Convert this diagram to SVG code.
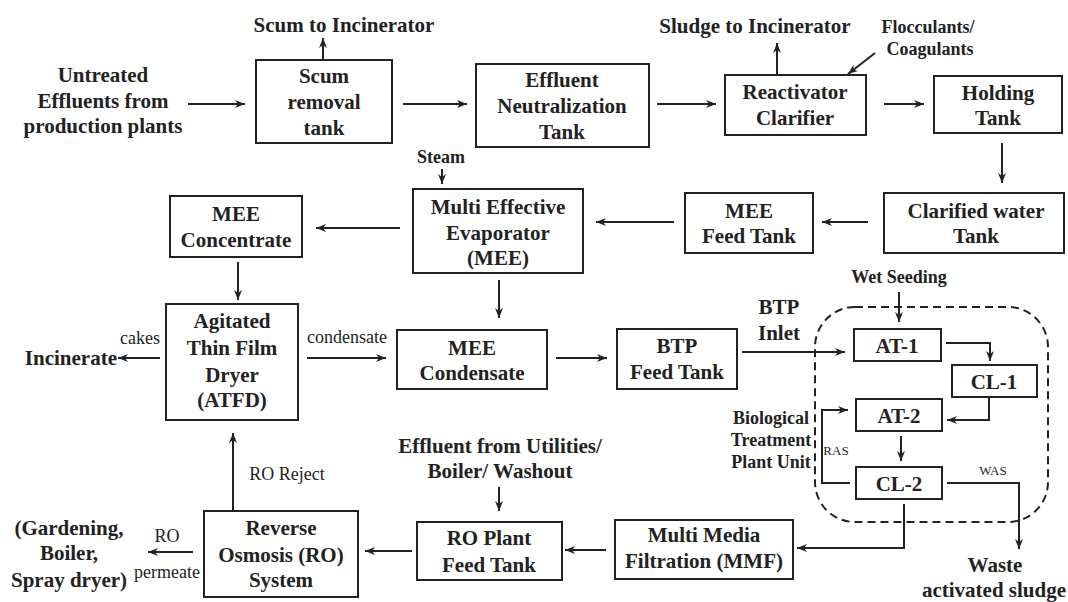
<svg xmlns="http://www.w3.org/2000/svg" width="1068" height="602" viewBox="0 0 1068 602">
<defs>
<marker id="ah" markerUnits="userSpaceOnUse" markerWidth="12" markerHeight="10" refX="10" refY="4" orient="auto">
<path d="M0,0 L10,4 L0,8 L3,4 z" fill="#222"/>
</marker>
<style>
.box{fill:#fff;stroke:#222;stroke-width:2}
.t{font-family:"Liberation Serif","Times New Roman",serif;font-weight:bold;font-size:21px;fill:#222;text-anchor:middle}
.s{font-family:"Liberation Serif","Times New Roman",serif;font-weight:bold;font-size:18px;fill:#222;text-anchor:middle}
.r{font-family:"Liberation Serif","Times New Roman",serif;font-size:18px;fill:#222;text-anchor:middle}
.xs{font-family:"Liberation Serif","Times New Roman",serif;font-size:13px;fill:#222;text-anchor:middle}
.c{fill:none;stroke:#222;stroke-width:2;marker-end:url(#ah)}
.dash{fill:none;stroke:#222;stroke-width:2;stroke-dasharray:8 5}
</style>
</defs>
<rect width="1068" height="602" fill="#fff"/>

<g id="bio-unit">
<rect class="dash" x="815" y="307" width="233" height="215" rx="40"/>
<text class="s"><tspan x="771" y="424">Biological</tspan><tspan x="771" y="446">Treatment</tspan><tspan x="771" y="468">Plant Unit</tspan></text>
</g>

<g id="connectors">
<line class="c" x1="188" y1="104" x2="245" y2="104"/>
<line class="c" x1="323" y1="60" x2="323" y2="38"/>
<line class="c" x1="403" y1="104" x2="467" y2="104"/>
<line class="c" x1="657" y1="104" x2="716" y2="104"/>
<line class="c" x1="777" y1="75" x2="777" y2="43"/>
<line class="c" x1="875" y1="53" x2="848" y2="74"/>
<line class="c" x1="884" y1="104" x2="924" y2="104"/>
<line class="c" x1="1002" y1="143" x2="1002" y2="183"/>
<line class="c" x1="868" y1="222" x2="822" y2="222"/>
<line class="c" x1="674" y1="222" x2="596" y2="222"/>
<line class="c" x1="442" y1="169" x2="442" y2="184"/>
<line class="c" x1="400" y1="228" x2="316" y2="228"/>
<line class="c" x1="238" y1="262" x2="238" y2="300"/>
<line class="c" x1="499" y1="280" x2="499" y2="318"/>
<line class="c" x1="160" y1="358" x2="118" y2="358"/>
<line class="c" x1="307" y1="358" x2="386" y2="358"/>
<line class="c" x1="556" y1="358" x2="607" y2="358"/>
<line class="c" x1="742" y1="352" x2="845" y2="352"/>
<line class="c" x1="899" y1="292" x2="899" y2="322"/>
<polyline class="c" points="946,343 990,343 990,361"/>
<polyline class="c" points="989,397 989,420 947,420"/>
<line class="c" x1="901" y1="436" x2="901" y2="461"/>
<polyline class="c" points="850,483 822,483 822,410 848,410"/>
<polyline class="c" points="947,483 1019,483 1019,549"/>
<polyline class="c" points="904,504 904,548 797,548"/>
<line class="c" x1="606" y1="550" x2="565" y2="550"/>
<line class="c" x1="499" y1="487" x2="499" y2="511"/>
<line class="c" x1="412" y1="551" x2="365" y2="551"/>
<line class="c" x1="233" y1="511" x2="233" y2="433"/>
<line class="c" x1="193" y1="552" x2="148" y2="552"/>
</g>

<g id="labels">
<text class="t"><tspan x="103" y="82">Untreated</tspan><tspan x="103" y="108">Effluents from</tspan><tspan x="103" y="133">production plants</tspan></text>
<text class="t" x="344" y="32">Scum to Incinerator</text>
<text class="t" x="755" y="33">Sludge to Incinerator</text>
<text class="s"><tspan x="928" y="33">Flocculants/</tspan><tspan x="930" y="55">Coagulants</tspan></text>
<text class="s" x="441" y="163">Steam</text>
<text class="r" x="140" y="344">cakes</text>
<text class="t" x="117" y="365" style="text-anchor:end">Incinerate</text>
<text class="r" x="347" y="343">condensate</text>
<text class="t"><tspan x="779" y="314">BTP</tspan><tspan x="779" y="340">Inlet</tspan></text>
<text class="s" x="899" y="283">Wet Seeding</text>
<text class="xs" x="836" y="455">RAS</text>
<text class="xs" x="993" y="475">WAS</text>
<text class="t"><tspan x="995" y="572">Waste</tspan><tspan x="994" y="597">activated sludge</tspan></text>
<text class="t"><tspan x="500" y="453">Effluent from Utilities/</tspan><tspan x="500" y="478">Boiler/ Washout</tspan></text>
<text class="r" x="287" y="480">RO Reject</text>
<text class="r" x="167" y="542">RO</text>
<text class="r" x="167" y="578">permeate</text>
<text class="t"><tspan x="69" y="535">(Gardening,</tspan><tspan x="69" y="560">Boiler,</tspan><tspan x="69" y="587">Spray dryer)</tspan></text>
</g>

<g id="scum-tank"><rect class="box" x="256" y="60" width="136" height="83"/>
<text class="t"><tspan x="324" y="83">Scum</tspan><tspan x="324" y="109">removal</tspan><tspan x="324" y="135">tank</tspan></text></g>

<g id="neutralization-tank"><rect class="box" x="476" y="64" width="173" height="83"/>
<text class="t"><tspan x="562" y="87">Effluent</tspan><tspan x="562" y="113">Neutralization</tspan><tspan x="562" y="139">Tank</tspan></text></g>

<g id="reactivator"><rect class="box" x="725" y="75" width="141" height="60"/>
<text class="t"><tspan x="795" y="99">Reactivator</tspan><tspan x="795" y="125">Clarifier</tspan></text></g>

<g id="holding-tank"><rect class="box" x="934" y="76" width="128" height="57"/>
<text class="t"><tspan x="998" y="100">Holding</tspan><tspan x="998" y="125">Tank</tspan></text></g>

<g id="clarified-tank"><rect class="box" x="884" y="193" width="180" height="60"/>
<text class="t"><tspan x="976" y="218">Clarified water</tspan><tspan x="976" y="243">Tank</tspan></text></g>

<g id="mee-feed"><rect class="box" x="685" y="193" width="128" height="60"/>
<text class="t"><tspan x="749" y="218">MEE</tspan><tspan x="749" y="243">Feed Tank</tspan></text></g>

<g id="mee"><rect class="box" x="413" y="189" width="170" height="84"/>
<text class="t"><tspan x="498" y="214">Multi Effective</tspan><tspan x="498" y="240">Evaporator</tspan><tspan x="498" y="265">(MEE)</tspan></text></g>

<g id="mee-concentrate"><rect class="box" x="170" y="196" width="132" height="61"/>
<text class="t"><tspan x="236" y="221">MEE</tspan><tspan x="236" y="247">Concentrate</tspan></text></g>

<g id="atfd"><rect class="box" x="166" y="304" width="132" height="116"/>
<text class="t"><tspan x="232" y="328">Agitated</tspan><tspan x="232" y="355">Thin Film</tspan><tspan x="232" y="382">Dryer</tspan><tspan x="232" y="407">(ATFD)</tspan></text></g>

<g id="mee-condensate"><rect class="box" x="397" y="330" width="150" height="59"/>
<text class="t"><tspan x="472" y="355">MEE</tspan><tspan x="472" y="380">Condensate</tspan></text></g>

<g id="btp-feed"><rect class="box" x="617" y="329" width="120" height="60"/>
<text class="t"><tspan x="677" y="353">BTP</tspan><tspan x="677" y="379">Feed Tank</tspan></text></g>

<g id="at1"><rect class="box" x="854" y="329" width="87" height="32"/>
<text class="t" x="897" y="353">AT-1</text></g>

<g id="cl1"><rect class="box" x="952" y="365" width="85" height="32"/>
<text class="t" x="994" y="389">CL-1</text></g>

<g id="at2"><rect class="box" x="856" y="399" width="86" height="32"/>
<text class="t" x="899" y="423">AT-2</text></g>

<g id="cl2"><rect class="box" x="856" y="467" width="86" height="32"/>
<text class="t" x="899" y="491">CL-2</text></g>

<g id="mmf"><rect class="box" x="615" y="520" width="178" height="59"/>
<text class="t"><tspan x="704" y="542">Multi Media</tspan><tspan x="704" y="568">Filtration (MMF)</tspan></text></g>

<g id="ro-feed"><rect class="box" x="417" y="522" width="145" height="58"/>
<text class="t"><tspan x="489" y="545">RO Plant</tspan><tspan x="489" y="572">Feed Tank</tspan></text></g>

<g id="ro-system"><rect class="box" x="204" y="511" width="154" height="86"/>
<text class="t"><tspan x="281" y="535">Reverse</tspan><tspan x="281" y="562">Osmosis (RO)</tspan><tspan x="281" y="587">System</tspan></text></g>
</svg>
